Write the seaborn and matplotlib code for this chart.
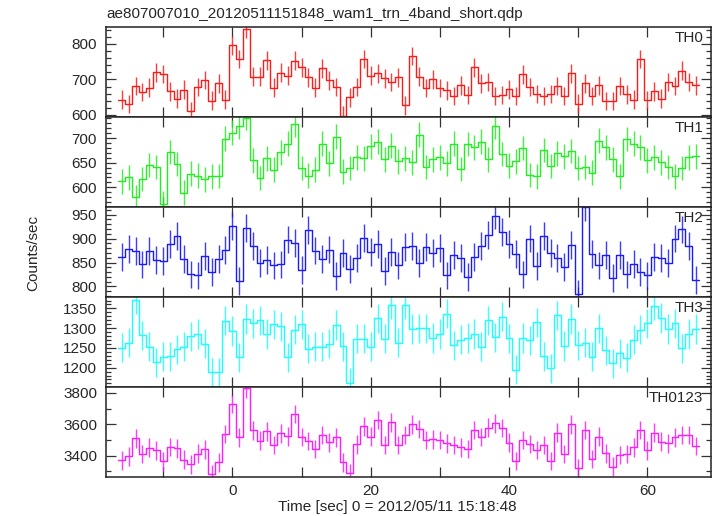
import numpy as np
import pandas as pd
import matplotlib
matplotlib.use("Agg")
import matplotlib.pyplot as plt
import seaborn as sns
from matplotlib.ticker import MultipleLocator

# bin centres (1 s bins)
time = np.arange(-16, 68)

th0 = [643, 630, 681, 664, 677, 720, 715, 666, 646, 671,
       610, 679, 698, 640, 689, 643, 796, 758, 842, 708,
       708, 754, 677, 719, 711, 753, 734, 706, 677, 731,
       697, 679, 598, 649, 679, 757, 711, 717, 703, 692,
       706, 627, 766, 708, 676, 700, 675, 669, 653, 683,
       656, 734, 689, 692, 654, 656, 672, 653, 714, 679,
       659, 654, 659, 682, 654, 717, 632, 689, 654, 683,
       639, 639, 681, 658, 643, 757, 642, 666, 646, 692,
       681, 725, 692, 683]

th1 = [612, 620, 580, 617, 645, 641, 567, 672, 647, 589,
       628, 624, 616, 622, 623, 699, 711, 724, 741, 655,
       619, 659, 636, 671, 689, 728, 639, 624, 636, 689,
       649, 703, 632, 639, 661, 659, 683, 693, 657, 685,
       653, 659, 651, 707, 641, 657, 661, 649, 689, 637,
       688, 681, 693, 657, 724, 668, 644, 653, 680, 625,
       622, 676, 643, 669, 663, 674, 639, 641, 630, 695,
       681, 657, 622, 698, 689, 681, 655, 661, 651, 641,
       622, 639, 661, 663]

th2 = [861, 878, 874, 846, 874, 856, 853, 889, 906, 857,
       825, 823, 864, 830, 857, 876, 927, 811, 922, 885,
       849, 856, 844, 846, 898, 891, 835, 918, 875, 857,
       877, 822, 870, 837, 860, 901, 872, 889, 833, 872,
       844, 882, 884, 849, 882, 870, 880, 823, 865, 860,
       819, 861, 884, 908, 948, 913, 889, 867, 825, 900,
       842, 905, 870, 860, 840, 886, 785, 965, 868, 844,
       865, 818, 865, 825, 847, 830, 823, 861, 860, 849,
       900, 919, 885, 813]

th3 = [1251, 1263, 1372, 1282, 1253, 1214, 1228, 1229, 1246, 1253,
       1279, 1285, 1261, 1188, 1188, 1319, 1293, 1226, 1323, 1312,
       1320, 1285, 1310, 1305, 1226, 1296, 1310, 1248, 1253, 1253,
       1261, 1308, 1254, 1162, 1273, 1273, 1253, 1325, 1273, 1359,
       1263, 1359, 1298, 1300, 1300, 1275, 1285, 1337, 1257, 1271,
       1275, 1285, 1253, 1320, 1277, 1329, 1274, 1195, 1275, 1269,
       1315, 1229, 1198, 1333, 1255, 1323, 1257, 1263, 1228, 1300,
       1244, 1211, 1236, 1225, 1271, 1296, 1312, 1357, 1326, 1298,
       1312, 1249, 1285, 1298]

th0123 = [3371, 3397, 3511, 3411, 3452, 3435, 3365, 3456, 3447, 3375,
          3346, 3414, 3441, 3282, 3358, 3539, 3729, 3517, 3829, 3562,
          3496, 3555, 3469, 3543, 3524, 3666, 3519, 3494, 3443, 3532,
          3486, 3517, 3358, 3288, 3473, 3587, 3522, 3628, 3467, 3613,
          3467, 3532, 3600, 3570, 3500, 3505, 3500, 3479, 3469, 3454,
          3443, 3564, 3519, 3579, 3606, 3575, 3483, 3367, 3500, 3475,
          3437, 3467, 3367, 3547, 3411, 3600, 3320, 3564, 3380, 3522,
          3416, 3331, 3405, 3411, 3454, 3564, 3435, 3547, 3490, 3479,
          3517, 3532, 3532, 3462]

bands = ["TH0", "TH1", "TH2", "TH3", "TH0123"]
series = [th0, th1, th2, th3, th0123]
errors = [26, 25, 29, 37, 59]  # approx. half length of error bars
colors = ["#ff1a1a", "#22ee22", "#1a1aff", "#1affff", "#ff1aff"]

ylims = [(594, 848), (560, 743), (778, 966), (1151, 1379), (3265, 3837)]
major = [100, 50, 50, 50, 200]
minor = [20, 10, 10, 10, 100]

sns.set_style("ticks")
plt.rcParams["font.family"] = ["Liberation Sans", "DejaVu Sans"]

fig, axes = plt.subplots(5, 1, sharex=True, figsize=(7.17, 5.16), dpi=100)
fig.subplots_adjust(left=0.148, right=0.9916, top=0.9477, bottom=0.0756, hspace=0)

nbins = len(time)
binrange = (time[0] - 0.5, time[-1] + 0.5)

for ax, name, vals, err, c, yl, mj, mn in zip(axes, bands, series, errors, colors,
                                               ylims, major, minor):
    df = pd.DataFrame({"time": time, "rate": vals})
    sns.histplot(data=df, x="time", weights="rate", bins=nbins, binrange=binrange,
                 element="step", fill=False, color=c, lw=1, ax=ax)
    ax.errorbar(df["time"], df["rate"], yerr=err, fmt="none", ecolor=c,
                elinewidth=1, alpha=0.85)
    ax.set_ylim(yl)
    ax.set_xlim(-18.25, 69.2)
    ax.set_ylabel("")
    ax.yaxis.set_major_locator(MultipleLocator(mj))
    ax.yaxis.set_minor_locator(MultipleLocator(mn))
    ax.xaxis.set_major_locator(MultipleLocator(20))
    ax.xaxis.set_minor_locator(MultipleLocator(10))
    ax.tick_params(which="both", direction="in", top=True, right=True,
                   labelsize=11, color="#333333", width=0.9)
    ax.tick_params(which="major", length=7)
    ax.tick_params(which="minor", length=3.5)
    ax.tick_params(axis="x", which="minor", length=7)
    ax.tick_params(axis="y", pad=6.5)
    ax.tick_params(axis="x", pad=5)
    for s in ax.spines.values():
        s.set_linewidth(1.1)
        s.set_color("#222222")
    ax.text(0.987, 0.955, name, transform=ax.transAxes, ha="right", va="top",
            fontsize=11)

axes[-1].set_xlabel("")
fig.text(0.554, 0.018, "Time [sec] 0 = 2012/05/11 15:18:48", ha="center",
         va="center", fontsize=11)
fig.text(0.047, 0.51, "Counts/sec", rotation=90, ha="center", va="center",
         fontsize=11)
fig.text(0.149, 0.972, "ae807007010_20120511151848_wam1_trn_4band_short.qdp",
         ha="left", va="center", fontsize=11)

plt.savefig("out.png", dpi=100)
